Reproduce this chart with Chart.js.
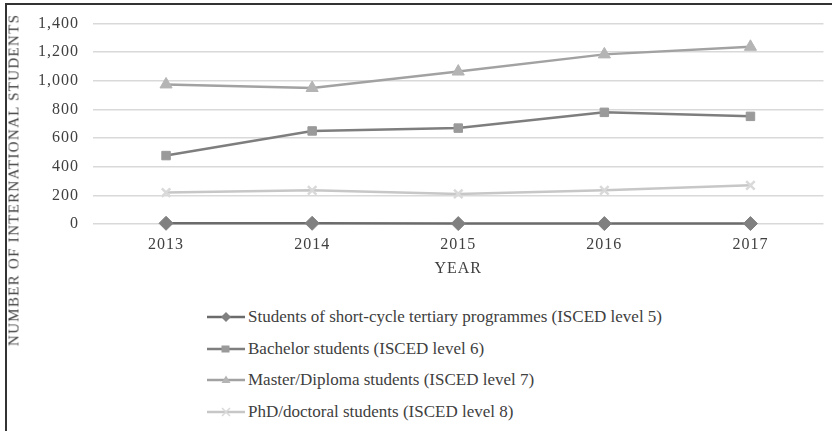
<!DOCTYPE html>
<html>
<head>
<meta charset="utf-8">
<script src="https://cdn.jsdelivr.net/npm/chart.js@4"></script>
<style>
  html, body { margin: 0; padding: 0; background: #fff; }
  body { width: 832px; height: 431px; position: relative; overflow: hidden; font-family: "Liberation Serif", "DejaVu Serif", serif; color: #404040; }
  .frame { position: absolute; left: 5px; top: 3px; width: 900px; height: 500px; border: 2px solid #333; }
  .wrap { position: absolute; left: 0; top: 0; width: 832px; height: 278px; }
  .ytitle { position: absolute; left: 14px; top: 180px; transform: translate(-50%, -50%) rotate(-90deg); white-space: nowrap; font-size: 15px; letter-spacing: 1.3px; }
  .legend { position: absolute; left: 207px; top: 301px; }
  .legend .row { height: 31.7px; display: flex; align-items: center; font-size: 17px; }
  .legend svg { margin-right: 3px; }
</style>
</head>
<body>
<div class="frame"></div>
<div class="wrap"><canvas id="chart"></canvas></div>
<div class="ytitle">NUMBER OF INTERNATIONAL STUDENTS</div>
<div class="legend" id="legend"></div>
<script>
const years = ["2013", "2014", "2015", "2016", "2017"];
const shortCycle = [5, 5, 3, 3, 3];
const bachelor = [478, 650, 670, 780, 752];
const master = [975, 950, 1065, 1185, 1238];
const phd = [220, 235, 210, 235, 270];
const yTicks = [0, 200, 400, 600, 800, 1000, 1200, 1400];

const series = [
  { label: "Students of short-cycle tertiary programmes (ISCED level 5)", data: shortCycle, line: "#6b6b6b", mark: "#808080", style: "rectRot", r: 7 },
  { label: "Bachelor students (ISCED level 6)", data: bachelor, line: "#7e7e7e", mark: "#9a9a9a", style: "rect", r: 6 },
  { label: "Master/Diploma students (ISCED level 7)", data: master, line: "#a2a2a2", mark: "#b4b4b4", style: "triangle", r: 7 },
  { label: "PhD/doctoral students (ISCED level 8)", data: phd, line: "#c7c7c7", mark: "#d9d9d9", style: "crossRot", r: 6 },
];

const font = { family: "'Liberation Serif', 'DejaVu Serif', serif", size: 16 };

const spacing = {
  id: "spacing",
  beforeLayout: c => { c.ctx.letterSpacing = "1px"; },
  beforeDraw: c => { c.ctx.letterSpacing = "1px"; },
};

new Chart(document.getElementById("chart"), {
  type: "line",
  plugins: [spacing],
  data: {
    labels: years,
    datasets: series.map(s => ({
      label: s.label,
      data: s.data,
      borderColor: s.line,
      borderWidth: 2.5,
      pointStyle: s.style,
      pointRadius: s.r,
      pointHoverRadius: s.r,
      pointBackgroundColor: s.mark,
      pointBorderColor: s.mark,
      pointBorderWidth: s.style === "crossRot" ? 2.5 : 1,
      tension: 0,
      clip: false,
    })),
  },
  options: {
    responsive: true,
    maintainAspectRatio: false,
    animation: false,
    layout: { padding: { top: 11, right: 2, left: 0, bottom: 0 } },
    plugins: {
      legend: { display: false },
      tooltip: { enabled: false },
    },
    scales: {
      x: {
        offset: true,
        grid: { display: false, drawTicks: false },
        border: { display: false },
        ticks: { font: font, color: "#404040", padding: 11 },
        title: { display: true, text: "YEAR", font: font, color: "#404040", padding: { top: 4, bottom: 0 } },
        afterFit: s => { s.height = 54; },
      },
      y: {
        min: 0,
        max: 1400,
        afterBuildTicks: s => { s.ticks = yTicks.map(v => ({ value: v })); },
        grid: { color: "#d9d9d9", lineWidth: 1.5, drawTicks: false },
        border: { display: false },
        ticks: { font: font, color: "#404040", padding: 14, callback: v => v.toLocaleString("en-US") },
        afterFit: s => { s.width = 93; },
      },
    },
  },
});

// legend drawn as a vertical list with line + marker swatches
const shapes = {
  rectRot: c => `<polygon points="19,1 24,6 19,11 14,6" fill="${c}"/>`,
  rect: c => `<rect x="14.5" y="2.5" width="8" height="7" fill="${c}"/>`,
  triangle: c => `<polygon points="19,1.5 23.5,9 14.5,9" fill="${c}"/>`,
  crossRot: c => `<path d="M15,2 L23,10 M23,2 L15,10" stroke="${c}" stroke-width="1.6"/>`,
};
const legend = document.getElementById("legend");
series.forEach(s => {
  const row = document.createElement("div");
  row.className = "row";
  row.innerHTML = `<svg width="38" height="12"><line x1="0" y1="6" x2="38" y2="6" stroke="${s.line}" stroke-width="2.5"/>${shapes[s.style](s.mark)}</svg><span>${s.label}</span>`;
  legend.appendChild(row);
});
</script>
</body>
</html>
